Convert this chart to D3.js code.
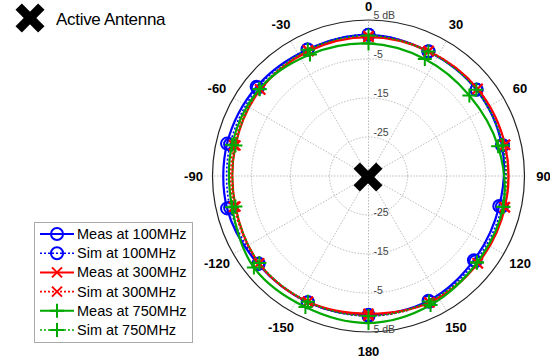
<!DOCTYPE html>
<html>
<head>
<meta charset="utf-8">
<script src="https://cdn.jsdelivr.net/npm/d3@7"></script>
<style>
  body { margin: 0; background: #fff; }
  svg { display: block; font-family: "Liberation Sans", Arial, sans-serif; }
</style>
</head>
<body>
<svg width="550" height="360"></svg>
<script>
// angles (deg, clockwise from top) where the data was sampled
let angles = [0, 25.7, 51.4, 77.1, 102.9, 128.6, 154.3, 180, 205.7, 231.4, 257.1, 282.9, 308.6, 334.3];

// gain in dB
let meas100 = [1.2, 0.4, 0.4, 0.1, -0.6, -0.4, 0.5, 0.6, 0.9, 1.2, 2.2, 2.2, 1.7, 1.0];
let sim100  = [1.2, 0.5, 0.5, 0.4, 0.1, 0.1, 0.8, 0.9, 0.9, 1.0, 1.4, 1.4, 1.3, 1.0];
let meas300 = [0.6, 0.5, 0.8, 0.9, 0.9, 0.9, 1.0, 0.3, 0.8, 0.9, 0.0, 0.0, 0.5, 0.5];
let sim300  = [0.9, 0.6, 0.8, 0.9, 0.8, 0.8, 0.9, 0.8, 0.8, 0.9, 0.4, 0.4, 0.6, 0.8];
let meas750 = [-1.0, -1.7, -1.9, -0.9, 0.4, 0.6, 1.7, 2.7, 2.3, 2.6, 0.9, 0.9, 0.8, -0.4];
let sim750  = [1.0, 0.4, 0.4, 0.3, 0.5, 0.6, 0.7, 0.9, 0.8, 0.8, 0.0, 0.0, 0.7, 0.9];

let seriesNames = ["Meas at 100MHz", "Sim at 100MHz", "Meas at 300MHz", "Sim at 300MHz", "Meas at 750MHz", "Sim at 750MHz"];

let ringTicks = [-25, -15, -5];
let ringLabels = ["-25", "-15", "-5", "5 dB"];
let spokeAngles = [0, 30, 60, 90, 120, 150, 180, 210, 240, 270, 300, 330];
let spokeLabels = ["0", "30", "60", "90", "120", "150", "180", "-150", "-120", "-90", "-60", "-30"];

let cx = 368.5, cy = 176, R = 156;

let svg = d3.select("svg");

let r = d3.scaleLinear().domain([-35, 5]).range([0, R]);
let rad = d => d * Math.PI / 180;

let styles = [
  { color: "#0000ff", dash: null, marker: "circle" },
  { color: "#0000ff", dash: "2,2", marker: "circle" },
  { color: "#ff0000", dash: null, marker: "x" },
  { color: "#ff0000", dash: "2,2", marker: "x" },
  { color: "#00a800", dash: null, marker: "plus" },
  { color: "#00a800", dash: "2,2", marker: "plus" }
];
let allData = [meas100, sim100, meas300, sim300, meas750, sim750];

let g = svg.append("g").attr("transform", `translate(${cx},${cy})`);

// grid rings
g.selectAll(".ring").data(ringTicks).enter()
  .append("circle")
  .attr("r", d => r(d))
  .attr("fill", "none")
  .attr("stroke", "#aaa")
  .attr("stroke-width", 0.8)
  .attr("stroke-dasharray", "1.5,1.5");

// spokes
g.selectAll(".spoke").data(spokeAngles).enter()
  .append("line")
  .attr("x1", 0).attr("y1", 0)
  .attr("x2", d => R * Math.sin(rad(d)))
  .attr("y2", d => -R * Math.cos(rad(d)))
  .attr("stroke", "#aaa")
  .attr("stroke-width", 0.8)
  .attr("stroke-dasharray", "1.5,1.5");

// outer ring
g.append("circle")
  .attr("r", r(5))
  .attr("fill", "none")
  .attr("stroke", "#222")
  .attr("stroke-width", 1.2);

// ring labels, top and bottom
[-1, 1].forEach(s => {
  g.selectAll(null).data(ringTicks.concat([5])).enter()
    .append("text")
    .attr("x", 5)
    .attr("y", d => s * r(d) + (s > 0 ? 1 : -1))
    .attr("font-size", 10.5)
    .attr("fill", "#444")
    .text((d, i) => ringLabels[i]);
});

// angle labels
g.selectAll(".alab").data(spokeAngles).enter()
  .append("text")
  .attr("x", d => 175 * Math.sin(rad(d)))
  .attr("y", d => d === 0 ? -170 : -175 * Math.cos(rad(d)))
  .attr("text-anchor", "middle")
  .attr("dominant-baseline", "central")
  .attr("font-size", 13)
  .attr("font-weight", "bold")
  .text((d, i) => spokeLabels[i]);

let line = d3.lineRadial()
  .angle(d => rad(d.a))
  .radius(d => r(d.v))
  .curve(d3.curveCatmullRomClosed);

function drawMarker(sel, type, color) {
  if (type === "circle") {
    sel.append("circle").attr("r", 6).attr("fill", "none")
      .attr("stroke", color).attr("stroke-width", 2);
  } else if (type === "x") {
    sel.append("path").attr("d", "M-5,-5L5,5M-5,5L5,-5")
      .attr("stroke", color).attr("stroke-width", 2);
  } else {
    sel.append("path").attr("d", "M-7,0L7,0M0,-7L0,7")
      .attr("stroke", color).attr("stroke-width", 2);
  }
}

allData.forEach((vals, i) => {
  let st = styles[i];
  let pts = angles.map((a, k) => ({ a: a, v: vals[k] }));
  g.append("path")
    .datum(pts)
    .attr("d", line)
    .attr("fill", "none")
    .attr("stroke", st.color)
    .attr("stroke-width", st.dash ? 1.6 : 2.2)
    .attr("stroke-dasharray", st.dash);
  pts.forEach(p => {
    let m = g.append("g")
      .attr("transform", `translate(${r(p.v) * Math.sin(rad(p.a))},${-r(p.v) * Math.cos(rad(p.a))})`);
    drawMarker(m, st.marker, st.color);
  });
});

// big X marks
function bigX(x, y) {
  let xg = svg.append("g").attr("transform", `translate(${x},${y})`);
  [45, -45].forEach(a => {
    xg.append("rect")
      .attr("x", -16).attr("y", -4.5)
      .attr("width", 32).attr("height", 9)
      .attr("fill", "#000")
      .attr("transform", `rotate(${a})`);
  });
}
bigX(368, 177);
bigX(30, 18);

svg.append("text")
  .attr("x", 56).attr("y", 19)
  .attr("dominant-baseline", "central")
  .attr("font-size", 17)
  .attr("letter-spacing", -0.3)
  .text("Active Antenna");

// legend
let lg = svg.append("g");
lg.append("rect")
  .attr("x", 34.5).attr("y", 222.5)
  .attr("width", 158).attr("height", 120)
  .attr("fill", "#fff")
  .attr("stroke", "#aaa");

seriesNames.forEach((name, i) => {
  let y = 234 + i * 19.2;
  let st = styles[i];
  lg.append("line")
    .attr("x1", 40).attr("x2", 74)
    .attr("y1", y).attr("y2", y)
    .attr("stroke", st.color)
    .attr("stroke-width", st.dash ? 1.6 : 2)
    .attr("stroke-dasharray", st.dash);
  let m = lg.append("g").attr("transform", `translate(57,${y})`);
  drawMarker(m, st.marker, st.color);
  lg.append("text")
    .attr("x", 77).attr("y", y)
    .attr("dominant-baseline", "central")
    .attr("font-size", 14.5)
    .text(name);
});
</script>
</body>
</html>
